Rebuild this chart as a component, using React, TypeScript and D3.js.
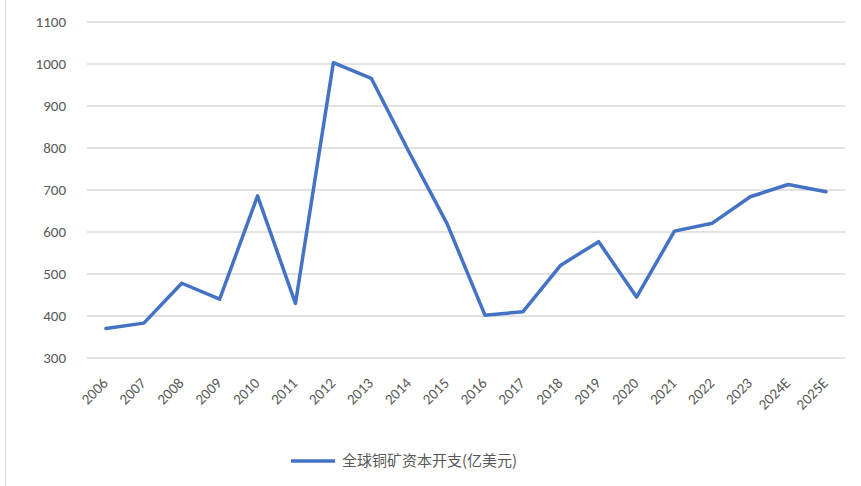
import React from "react";
import * as d3 from "d3";

const categories = ["2006","2007","2008","2009","2010","2011","2012","2013","2014","2015","2016","2017","2018","2019","2020","2021","2022","2023","2024E","2025E"];
const values = [370, 383, 478, 440, 686, 430, 1003, 966, 790, 620, 402, 410, 521, 577, 445, 602, 621, 684, 713, 696];
const yTicks = [300, 400, 500, 600, 700, 800, 900, 1000, 1100];
const seriesName = "全球铜矿资本开支(亿美元)";

export default function App() {
  const W = 861, H = 486;
  const left = 87, right = 845, top = 22, bottom = 358;
  const x = d3.scaleBand<string>().domain(categories).range([left, right]);
  const y = d3.scaleLinear().domain([300, 1100]).range([bottom, top]);
  const line = d3.line<number>()
    .x((_, i) => (x(categories[i]) as number) + x.bandwidth() / 2)
    .y((d) => y(d));
  const font = "Calibri, 'Liberation Sans', 'Noto Sans', sans-serif";
  return (
    <svg width={W} height={H} style={{ position: "absolute", left: 0, top: 0, background: "#fff" }}>
      <rect x={0} y={0} width={W} height={H} fill="#fff" />
      <line x1={5.5} x2={5.5} y1={0} y2={H} stroke="#d9d9d9" strokeWidth={1} />
      {yTicks.map((t) => (
        <g key={t}>
          <line x1={left} x2={right} y1={y(t)} y2={y(t)} stroke="#d9d9d9" strokeWidth={1.5} />
          <text x={66} y={y(t)} dy="0.35em" textAnchor="end" fontSize={15} fill="#595959" fontFamily={font}>{t}</text>
        </g>
      ))}
      {categories.map((c) => {
        const cx = (x(c) as number) + x.bandwidth() / 2;
        return (
          <text key={c} transform={`translate(${cx + 3},${384}) rotate(-45)`} textAnchor="end" fontSize={15} fill="#595959" fontFamily={font}>{c}</text>
        );
      })}
      <path d={line(values) || ""} fill="none" stroke="#4472C4" strokeWidth={3.5} strokeLinejoin="round" strokeLinecap="round" />
      <line x1={291} x2={335} y1={461} y2={461} stroke="#4472C4" strokeWidth={3.5} />
      <text x={342} y={461} dy="0.35em" fontSize={15} fill="#595959" fontFamily="'Noto Sans CJK SC', sans-serif">{seriesName}</text>
    </svg>
  );
}
